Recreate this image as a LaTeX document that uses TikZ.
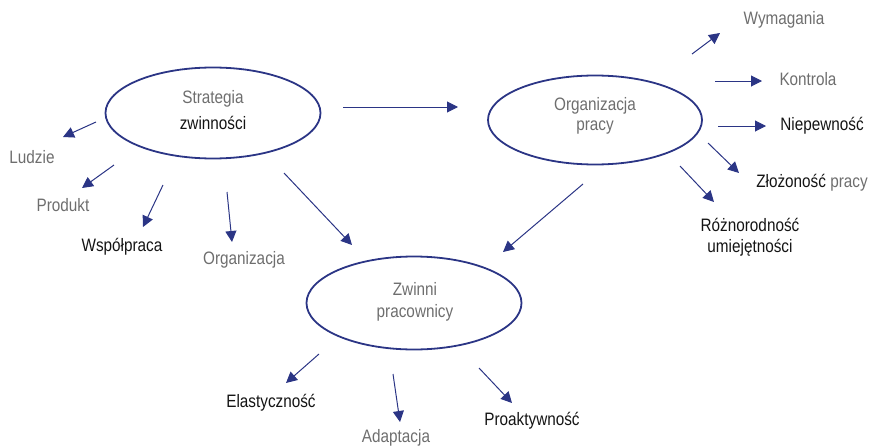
\documentclass[tikz,border=0pt]{standalone}
\usepackage{fontspec}
\setmainfont{Liberation Sans}[FakeStretch=0.85]
\usetikzlibrary{arrows.meta,shapes.geometric}
\definecolor{navy}{HTML}{2B3585}
\definecolor{softgray}{HTML}{6E6E6E}
\definecolor{ink}{HTML}{141414}
\tikzset{
  hub/.style={draw=navy, line width=1.8pt, ellipse, inner sep=0pt},
  lbl/.style={inner sep=0pt, font=\fontsize{18}{21}\selectfont, text=softgray, align=center},
  dark/.style={lbl, text=ink},
  link/.style={draw=navy, line width=1pt, -{Triangle[length=11pt, width=11pt]}},
}
\begin{document}
\begin{tikzpicture}[x=1pt, y=-1pt]
\useasboundingbox (0,0) rectangle (870,447);

% three central ellipses
\node[hub, minimum width=215pt, minimum height=91pt] (strat) at (213,113) {};
\node[hub, minimum width=214pt, minimum height=89pt] (orgp) at (595,120) {};
\node[hub, minimum width=215pt, minimum height=93pt] (zwin) at (414,303) {};

\node[lbl] (stratA) at (213,99) {Strategia};
\node[dark] (stratB) at (213,123) {zwinności};
\node[lbl] (orgpA) at (595,106) {Organizacja};
\node[lbl] (orgpB) at (595,128) {pracy};
\node[lbl] (zwinA) at (415,289) {Zwinni};
\node[lbl] (zwinB) at (415,313) {pracownicy};

% outer labels
\node[lbl] (ludzie) at (32,157) {Ludzie};
\node[lbl] (produkt) at (63,205) {Produkt};
\node[dark] (wspol) at (122,247) {Współpraca};
\node[lbl] (organiz) at (244,260) {Organizacja};
\node[lbl] (wymag) at (784,20) {Wymagania};
\node[lbl] (kontr) at (808,79) {Kontrola};
\node[dark] (niep) at (822,126) {Niepewność};
\node[inner sep=0pt, font=\fontsize{18}{21}\selectfont] (zloz) at (812,183) {\textcolor{ink}{Złożoność} \textcolor{softgray}{pracy}};
\node[dark] (rozn) at (750,237) {Różnorodność\\umiejętności};
\node[dark] (elast) at (271,403) {Elastyczność};
\node[lbl] (adapt) at (396,438) {Adaptacja};
\node[dark] (proak) at (532,421) {Proaktywność};

% arrow end points
\coordinate (s1) at (96,122);  \coordinate (t1) at (63,137);
\coordinate (s2) at (114,165); \coordinate (t2) at (82,188);
\coordinate (s3) at (163,185); \coordinate (t3) at (143,227);
\coordinate (s4) at (227,192); \coordinate (t4) at (232,242);
\coordinate (s5) at (284,173); \coordinate (t5) at (352,245);
\coordinate (s6) at (343,107); \coordinate (t6) at (458,107);
\coordinate (s7) at (692,54);  \coordinate (t7) at (720,33);
\coordinate (s8) at (715,81);  \coordinate (t8) at (762,81);
\coordinate (s9) at (718,126); \coordinate (t9) at (766,126);
\coordinate (s10) at (708,143); \coordinate (t10) at (739,173);
\coordinate (s11) at (680,166); \coordinate (t11) at (714,202);
\coordinate (s12) at (583,184); \coordinate (t12) at (503,252);
\coordinate (s13) at (319,354); \coordinate (t13) at (286,383);
\coordinate (s14) at (393,374); \coordinate (t14) at (400,422);
\coordinate (s15) at (479,368); \coordinate (t15) at (512,403);

\foreach \i in {1,...,15} \draw[link] (s\i) -- (t\i);
\end{tikzpicture}
\end{document}
